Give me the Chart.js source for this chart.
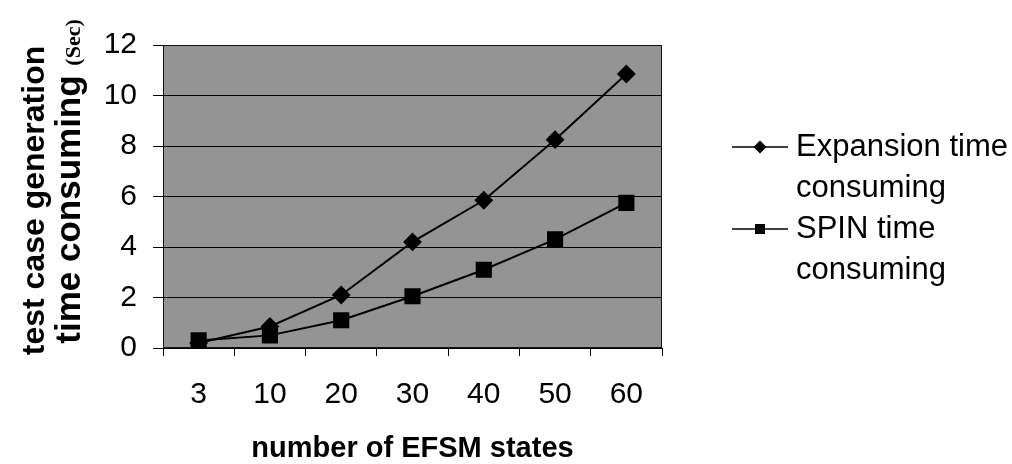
<!DOCTYPE html>
<html>
<head>
<meta charset="utf-8">
<script src="https://cdn.jsdelivr.net/npm/chart.js@4.4.1/dist/chart.umd.min.js"></script>
<style>
  html, body { margin: 0; padding: 0; background: #fff; }
  #wrap { width: 1012px; height: 464px; }
</style>
</head>
<body>
<div id="wrap"><canvas id="chart"></canvas></div>
<script>
const states = ['3', '10', '20', '30', '40', '50', '60'];
const expansionTime = [0.2, 0.85, 2.1, 4.2, 5.85, 8.25, 10.85];
const spinTime = [0.3, 0.5, 1.1, 2.05, 3.1, 4.3, 5.75];
const seriesNames = [['Expansion time', 'consuming'], ['SPIN time', 'consuming']];
const yTitleLines = ['test case generation', 'time consuming '];
const yTitleUnit = '(Sec)';
const xTitle = 'number of EFSM states';

const sans = '"Liberation Sans", Arial, sans-serif';
const serif = '"Liberation Serif", "Times New Roman", serif';

// grey plot area with a dark frame
const plotBackground = {
  id: 'plotBackground',
  beforeDraw(chart) {
    const {ctx, chartArea: a} = chart;
    ctx.save();
    ctx.fillStyle = '#949494';
    ctx.fillRect(a.left, a.top, a.right - a.left, a.bottom - a.top);
    ctx.restore();
  },
  beforeDatasetsDraw(chart) {
    const {ctx, chartArea: a} = chart;
    ctx.save();
    ctx.strokeStyle = '#111';
    ctx.lineWidth = 1;
    ctx.strokeRect(a.left + 0.5, a.top + 0.5, a.right - a.left - 1, a.bottom - a.top - 1);
    ctx.restore();
  }
};

// two-line rotated y title, unit in a smaller serif face
const yTitle = {
  id: 'yTitle',
  afterDraw(chart) {
    const ctx = chart.ctx;
    const mid = (chart.chartArea.top + chart.chartArea.bottom) / 2;
    ctx.save();
    ctx.fillStyle = '#000';
    ctx.textBaseline = 'alphabetic';
    ctx.translate(44, mid + 4);
    ctx.rotate(-Math.PI / 2);
    ctx.font = 'bold 32px ' + sans;
    ctx.textAlign = 'center';
    ctx.fillText(yTitleLines[0], 0, 0);
    ctx.restore();

    ctx.save();
    ctx.fillStyle = '#000';
    ctx.textBaseline = 'alphabetic';
    ctx.textAlign = 'left';
    ctx.translate(80, mid - 15);
    ctx.rotate(-Math.PI / 2);
    ctx.font = 'bold 35px ' + sans;
    const w1 = ctx.measureText(yTitleLines[1]).width;
    ctx.font = 'bold 22px ' + serif;
    const w2 = ctx.measureText(yTitleUnit).width;
    const start = -(w1 + w2) / 2;
    ctx.font = 'bold 35px ' + sans;
    ctx.fillText(yTitleLines[1], start, 0);
    ctx.font = 'bold 22px ' + serif;
    ctx.fillText(yTitleUnit, start + w1, 0);
    ctx.restore();
  }
};

// legend on the right, each name on two lines
const sideLegend = {
  id: 'sideLegend',
  afterDraw(chart) {
    const ctx = chart.ctx;
    const x0 = chart.chartArea.right + 70;
    const x1 = x0 + 56;
    const lineH = 41;
    let y = 147;
    chart.data.datasets.forEach((ds, i) => {
      ctx.save();
      ctx.strokeStyle = '#000';
      ctx.fillStyle = '#000';
      ctx.lineWidth = 1.5;
      ctx.beginPath();
      ctx.moveTo(x0, y);
      ctx.lineTo(x1, y);
      ctx.stroke();
      Chart.helpers.drawPoint(ctx, {
        pointStyle: ds.pointStyle,
        radius: ds.pointStyle === 'rect' ? 6 : 5.5,
        rotation: 0,
        borderWidth: 1
      }, (x0 + x1) / 2, y);
      ctx.font = '31px ' + sans;
      ctx.textAlign = 'left';
      ctx.textBaseline = 'middle';
      seriesNames[i].forEach((t, j) => ctx.fillText(t, x1 + 8, y + j * lineH));
      ctx.restore();
      y += seriesNames[i].length * lineH;
    });
  }
};

new Chart(document.getElementById('chart'), {
  type: 'line',
  data: {
    labels: states,
    datasets: [
      {
        label: seriesNames[0].join(' '),
        data: expansionTime,
        borderColor: '#000',
        backgroundColor: '#000',
        borderWidth: 2,
        pointStyle: 'rectRot',
        pointRadius: 8,
        tension: 0
      },
      {
        label: seriesNames[1].join(' '),
        data: spinTime,
        borderColor: '#000',
        backgroundColor: '#000',
        borderWidth: 2,
        pointStyle: 'rect',
        pointRadius: 10,
        tension: 0
      }
    ]
  },
  options: {
    responsive: true,
    maintainAspectRatio: false,
    animation: false,
    layout: { padding: { left: 0, right: 350, top: 45, bottom: 0 } },
    plugins: {
      legend: { display: false },
      tooltip: { enabled: false }
    },
    scales: {
      x: {
        offset: true,
        grid: { offset: true, drawOnChartArea: false, color: '#000', tickLength: 8 },
        border: { color: '#000', width: 1 },
        ticks: { color: '#000', font: { family: sans, size: 30 }, padding: 21 },
        title: {
          display: true,
          text: xTitle,
          color: '#000',
          font: { family: sans, size: 29, weight: 'bold' },
          padding: { top: 0, bottom: -2 }
        },
        afterFit(s) { s.height = 116; }
      },
      y: {
        min: 0,
        max: 12,
        ticks: { stepSize: 2, color: '#000', font: { family: sans, size: 30 }, padding: 16 },
        grid: { color: '#000', tickLength: 10 },
        border: { color: '#000', width: 1 },
        afterFit(s) { s.width = 163; }
      }
    }
  },
  plugins: [plotBackground, yTitle, sideLegend]
});
</script>
</body>
</html>
